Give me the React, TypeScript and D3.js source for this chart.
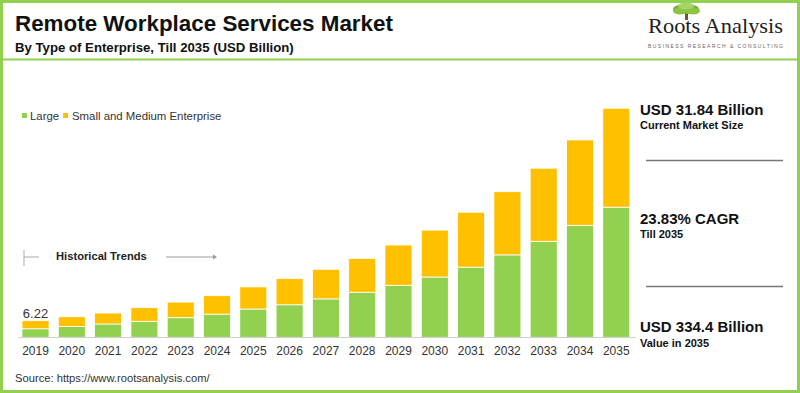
import * as d3 from "d3";

const years = ["2019", "2020", "2021", "2022", "2023", "2024", "2025", "2026", "2027", "2028", "2029", "2030", "2031", "2032", "2033", "2034", "2035"];
const large = [3.2, 4.1, 5.0, 6.0, 7.35, 8.7, 10.6, 12.2, 14.4, 16.9, 19.5, 22.6, 26.3, 30.9, 36.0, 42.0, 48.8];
const sme = [3.02, 3.6, 4.1, 5.1, 5.85, 6.9, 8.3, 9.8, 11.1, 12.7, 15.1, 17.6, 20.6, 23.7, 27.4, 32.0, 37.1];
const seriesNames = ["Large", "Small and Medium Enterprise"];
const colors = ["#92d050", "#ffc000"];
const firstLabel = "6.22";

const width = 800;
const height = 393;
const font = "Arial, 'Liberation Sans', sans-serif";

export default function App() {
  const x = d3.scaleBand<string>().domain(years).range([12.7, 639.1]).paddingInner(0.256).paddingOuter(0.256);
  const y = d3.scaleLinear().domain([0, 90]).range([337.3, 97.3]);

  const rows = years.map((yr, i) => ({ year: yr, large: large[i], sme: sme[i] }));
  const stacked = d3.stack<any>().keys(["large", "sme"])(rows);

  return (
    <div style={{ position: "absolute", left: 0, top: 0 }}>
      <svg width={width} height={height} style={{ display: "block", fontFamily: font }}>
        <rect x={0} y={0} width={width} height={height} fill="#fff" />
        {/* frame */}
        <rect x={1.5} y={1.5} width={width - 3} height={height - 3} fill="none" stroke="#92d050" strokeWidth={3} />
        <line x1={0} x2={width} y1={59.5} y2={59.5} stroke="#92d050" strokeWidth={2} />

        {/* header */}
        <text x={15} y={31} fontSize={22.4} fontWeight="bold" fill="#111">Remote Workplace Services Market</text>
        <text x={15} y={52} fontSize={13.2} fontWeight="bold" fill="#111">By Type of Enterprise, Till 2035 (USD Billion)</text>

        {/* logo */}
        <g>
          <rect x={685} y={10} width={3} height={10} fill="#6b5a2e" />
          <ellipse cx={686} cy={9} rx={13} ry={5} fill="#6fb33a" />
          <ellipse cx={680} cy={11} rx={7} ry={3.5} fill="#8cc63f" />
          <ellipse cx={693} cy={11} rx={7} ry={3.5} fill="#8cc63f" />
          <ellipse cx={686} cy={6} rx={8} ry={3.5} fill="#a5d46a" />
          <text x={648} y={33} fontSize={21} fontFamily="'Liberation Serif', 'DejaVu Serif', serif" fill="#222" textLength={135} lengthAdjust="spacingAndGlyphs">Roots Analysis</text>
          <text x={648} y={48} fontSize={5} fill="#666" textLength={135} lengthAdjust="spacing">BUSINESS RESEARCH &amp; CONSULTING</text>
        </g>

        {/* legend */}
        <rect x={22} y={113} width={5} height={5} fill={colors[0]} />
        <text x={30} y={119.5} fontSize={11.4} fill="#333">{seriesNames[0]}</text>
        <rect x={63} y={113} width={5} height={5} fill={colors[1]} />
        <text x={72} y={119.5} fontSize={11.4} fill="#333">{seriesNames[1]}</text>

        {/* historical trends */}
        <line x1={24} x2={24} y1={250} y2={266} stroke="#aaa" strokeWidth={1} />
        <line x1={24} x2={39} y1={257} y2={257} stroke="#aaa" strokeWidth={1} />
        <text x={56} y={260} fontSize={11.2} fontWeight="bold" fill="#222">Historical Trends</text>
        <line x1={166} x2={213} y1={257} y2={257} stroke="#999" strokeWidth={1} />
        <path d="M213,254.5 L217,257 L213,259.5 Z" fill="#999" />

        {/* bars */}
        {stacked.map((s, si) => (
          <g key={si} fill={colors[si]}>
            {s.map((d: any) => (
              <rect
                key={d.data.year}
                x={x(d.data.year)}
                y={y(d[1])}
                width={x.bandwidth()}
                height={y(d[0]) - y(d[1])}
                stroke="#fff"
                strokeWidth={0.8}
              />
            ))}
          </g>
        ))}
        <line x1={18} x2={636} y1={337.5} y2={337.5} stroke="#d0d0d0" strokeWidth={1} />
        {years.map((yr) => (
          <text key={yr} x={x(yr)! + x.bandwidth() / 2} y={355} fontSize={12} textAnchor="middle" fill="#333">{yr}</text>
        ))}
        <text x={x(years[0])! + x.bandwidth() / 2} y={318} fontSize={13} textAnchor="middle" fill="#333">{firstLabel}</text>

        {/* right panel */}
        <text x={640} y={115} fontSize={15} fontWeight="bold" fill="#111">USD 31.84 Billion</text>
        <text x={640} y={129} fontSize={11} fontWeight="bold" fill="#111">Current Market Size</text>
        <line x1={646} x2={783} y1={160.5} y2={160.5} stroke="#777" strokeWidth={1.5} />
        <text x={640} y={224} fontSize={15} fontWeight="bold" fill="#111">23.83% CAGR</text>
        <text x={640} y={238} fontSize={11} fontWeight="bold" fill="#111">Till 2035</text>
        <line x1={646} x2={783} y1={286.5} y2={286.5} stroke="#777" strokeWidth={1.5} />
        <text x={640} y={332} fontSize={15} fontWeight="bold" fill="#111">USD 334.4 Billion</text>
        <text x={640} y={347} fontSize={11} fontWeight="bold" fill="#111">Value in 2035</text>

        <text x={15} y={382} fontSize={11.2} fill="#333">Source: https://www.rootsanalysis.com/</text>
      </svg>
    </div>
  );
}
